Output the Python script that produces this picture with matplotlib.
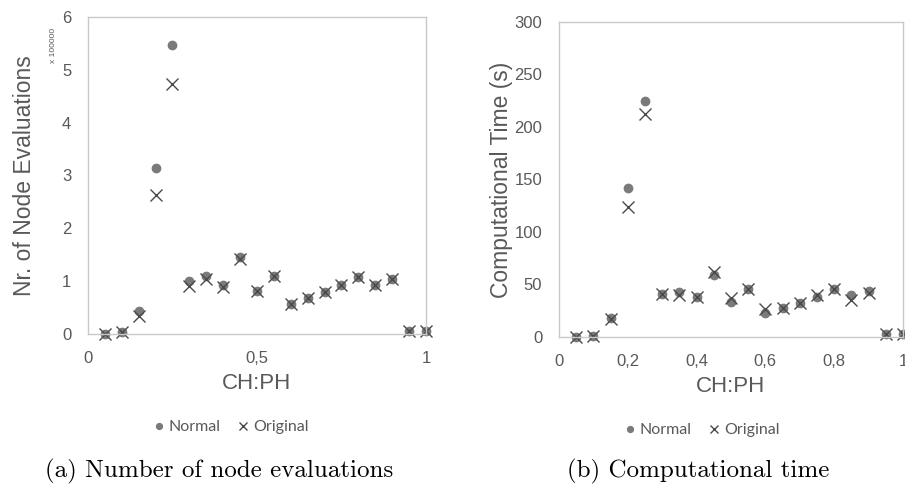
import matplotlib
matplotlib.use("Agg")
import matplotlib.pyplot as plt
from matplotlib.ticker import FuncFormatter

# CH:PH ratio
ratio = [0.05, 0.1, 0.15, 0.2, 0.25, 0.3, 0.35, 0.4, 0.45, 0.5,
         0.55, 0.6, 0.65, 0.7, 0.75, 0.8, 0.85, 0.9, 0.95, 1.0]

# node evaluations (x 100000)
nodes_normal = [0.0, 0.04, 0.44, 3.15, 5.47, 1.01, 1.09, 0.92, 1.46, 0.82,
                1.09, 0.57, 0.68, 0.80, 0.93, 1.08, 0.93, 1.04, 0.05, 0.05]
nodes_original = [0.0, 0.03, 0.34, 2.63, 4.74, 0.91, 1.04, 0.89, 1.41, 0.82,
                  1.09, 0.57, 0.68, 0.80, 0.93, 1.08, 0.93, 1.04, 0.05, 0.05]

# computational time (s)
time_normal = [0, 1, 18, 142, 225, 41, 43, 38, 59, 33,
               46, 23, 28, 32, 38, 46, 40, 44, 2.5, 2.5]
time_original = [0, 1, 17, 124, 212, 41, 40, 38, 62, 37,
                 46, 27, 28, 32, 40, 46, 35, 42, 2.5, 2.5]

GREY = "#595959"
SANS = "Liberation Sans"

fig = plt.figure(figsize=(9.05, 4.87), dpi=100)
ax1 = fig.add_axes([0.0972, 0.3142, 0.3735, 0.651])
ax2 = fig.add_axes([0.6177, 0.308, 0.380, 0.647])

comma = FuncFormatter(lambda v, p: ("%g" % v).replace(".", ","))


def style(ax):
    for s in ax.spines.values():
        s.set_color("#c9c9c9")
        s.set_linewidth(1.0)
    ax.tick_params(length=0, labelsize=12, labelcolor=GREY, pad=12)
    for lab in ax.get_xticklabels() + ax.get_yticklabels():
        lab.set_family(SANS)
    ax.xaxis.set_major_formatter(comma)


def draw(ax, yn, yo):
    ax.plot(ratio, yn, "o", ms=6, color="#7a7a7a", mec="#7a7a7a", label="Normal", clip_on=False)
    ax.plot(ratio, yo, "x", ms=8, mew=1.0, color="#4a4a4a", label="Original", clip_on=False)


draw(ax1, nodes_normal, nodes_original)
ax1.set_xlim(0, 1)
ax1.set_ylim(0, 6)
ax1.set_xticks([0, 0.5, 1])
ax1.set_yticks(range(0, 7))
style(ax1)
ax1.set_ylabel("Nr. of Node Evaluations", fontsize=16.5, color=GREY, family=SANS, labelpad=19)
ax1.set_xlabel("CH:PH", fontsize=16, color=GREY, family=SANS, labelpad=5)
fig.text(53 / 905, 1 - 45 / 487, "x 100000", rotation=90, fontsize=6, color=GREY,
         family=SANS, ha="center", va="center")

draw(ax2, time_normal, time_original)
ax2.set_xlim(0, 1)
ax2.set_ylim(0, 300)
ax2.set_xticks([0, 0.2, 0.4, 0.6, 0.8, 1.0])
ax2.set_yticks(range(0, 301, 50))
style(ax2)
ax2.set_ylabel("Computational Time (s)", fontsize=16.5, color=GREY, family=SANS, labelpad=1)
ax2.set_xlabel("CH:PH", fontsize=16, color=GREY, family=SANS, labelpad=5)

# legends below each plot
for cx, cy in [(229 / 905, 1 - 427 / 487), (700 / 905, 1 - 430 / 487)]:
    h, l = ax1.get_legend_handles_labels()
    fig.legend(h, l, loc="center", bbox_to_anchor=(cx, cy), ncol=2, frameon=False,
               prop={"family": ["Lato", SANS], "size": 11.5},
               labelcolor=GREY, handletextpad=0.0, columnspacing=0.8, handlelength=1.2,
               markerscale=0.7)

# subfigure captions
fig.text(219 / 905, 1 - 471 / 487, "(a) Number of node evaluations", fontsize=18,
         family="cmr10", ha="center", va="center")
fig.text(698 / 905, 1 - 471 / 487, "(b) Computational time", fontsize=18,
         family="cmr10", ha="center", va="center")

fig.savefig("out.png", dpi=100, facecolor="white")
